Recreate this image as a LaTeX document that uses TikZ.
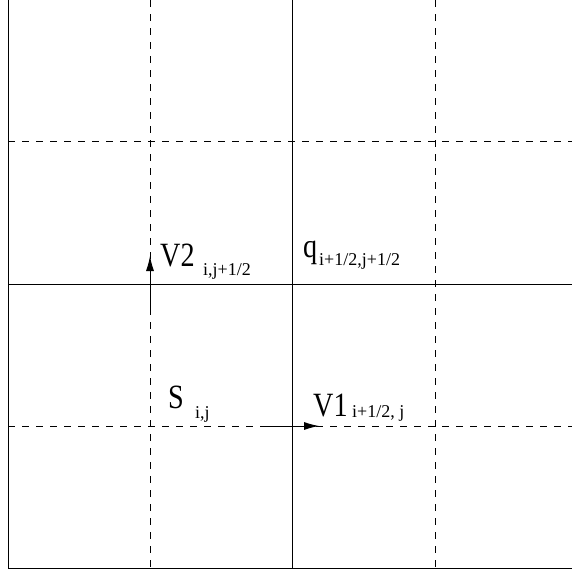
\documentclass[tikz,border=0pt]{standalone}
\usepackage{fontspec}
\setmainfont{Liberation Serif}
\usepackage{tikz}
\usetikzlibrary{arrows.meta,positioning}

\newcommand{\tallglyphs}[1]{\scalebox{0.83}[1]{#1}}

\begin{document}
\begin{tikzpicture}[
    x=1pt,y=-1pt,
    solidline/.style={line width=0.9pt,black},
    dashline/.style={line width=0.9pt,black,dash pattern=on 7pt off 7pt},
    arr/.style={-{Latex[length=15pt,width=8pt]},line width=0.9pt,black},
    big/.style={inner sep=0pt,anchor=base west,font=\fontsize{34}{36}\selectfont},
    sub/.style={inner sep=0pt,anchor=base west,font=\fontsize{18}{20}\selectfont}
  ]
    \useasboundingbox (0,0) rectangle (572,573);

    % cell boundaries
    \draw[solidline] (8,0) -- (8,568) -- (572,568);
    \draw[solidline] (292,0) -- (292,568);
    \draw[solidline] (8,284) -- (572,284);

    % cell centres
    \draw[dashline] (150,0) -- (150,568);
    \draw[dashline] (435,0) -- (435,568);
    \draw[dashline] (8,141) -- (572,141);
    \draw[dashline] (8,426) -- (572,426);

    % velocities
    \coordinate (v2start) at (150,310);
    \coordinate (v2end) at (150,256);
    \coordinate (v1start) at (265,426);
    \coordinate (v1end) at (319,426);
    \draw[arr] (v2start) -- (v2end);
    \draw[arr] (v1start) -- (v1end);

    \node[big] (v2) at (160,266) {\tallglyphs{V2}};
    \node[sub] (v2sub) at (203,275) {i,j+1/2};
    \node[big] (q) at (303,257) {\tallglyphs{q}};
    \node[sub] (qsub) at (319,265) {i+1/2,j+1/2};
    \node[big] (s) at (168,408) {\tallglyphs{S}};
    \node[sub] (ssub) at (195,418) {i,j};
    \node[big] (v1) at (313,416) {\tallglyphs{V1}};
    \node[sub] (v1sub) at (352,417) {i+1/2, j};
  \end{tikzpicture}
\end{document}
